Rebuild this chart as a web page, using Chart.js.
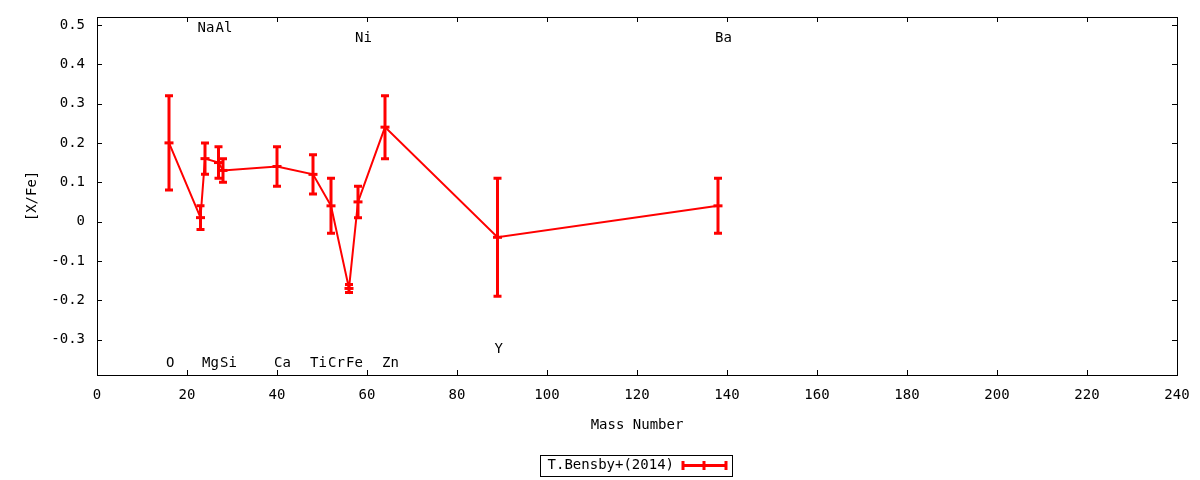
<!DOCTYPE html>
<html>
<head>
<meta charset="utf-8">
<script src="https://cdn.jsdelivr.net/npm/chart.js@4.4.0/dist/chart.umd.min.js"></script>
<style>
    html, body { margin: 0; padding: 0; background: #fff; }
</style>
</head>
<body>
<canvas id="abundanceChart" width="1200" height="480"></canvas>
<script>
// ── Data ───────────────────────────────────────────────────────────────────
const elements     = ['O', 'Na', 'Mg', 'Al', 'Si', 'Ca', 'Ti', 'Cr', 'Fe', 'Ni', 'Zn', 'Y', 'Ba'];
const massNumbers  = [16, 23, 24, 27, 28, 40, 48, 52, 56, 58, 64, 89, 138];
const xFe          = [0.20, 0.01, 0.16, 0.15, 0.13, 0.14, 0.12, 0.04, -0.17, 0.05, 0.24, -0.04, 0.04];
const xFeErr       = [0.12, 0.03, 0.04, 0.04, 0.03, 0.05, 0.05, 0.07, 0.01, 0.04, 0.08, 0.15, 0.07];
// where each element name sits, in [X/Fe] units
const labelY       = [-0.36, 0.49, -0.36, 0.49, -0.36, -0.36, -0.36, -0.36, -0.36, 0.465, -0.36, -0.325, 0.465];
const xTicks       = [0, 20, 40, 60, 80, 100, 120, 140, 160, 180, 200, 220, 240];
const yTicks       = [-0.3, -0.2, -0.1, 0, 0.1, 0.2, 0.3, 0.4, 0.5];
const seriesName   = 'T.Bensby+(2014)';

// ── Style helpers ──────────────────────────────────────────────────────────
const FONT_FAMILY = '"DejaVu Sans Mono", monospace';
const FONT_SIZE = 14;
const RED = '#ff0000';
const TICK_LEN = 5;

function capBar(ctx, x, y1, y2, half) {
    ctx.moveTo(x, y1); ctx.lineTo(x, y2);
    ctx.moveTo(x - half, y1); ctx.lineTo(x + half, y1);
    ctx.moveTo(x - half, y2); ctx.lineTo(x + half, y2);
}

// frame, inward ticks, error bars, element names and the key box
const gnuplotLook = {
    id: 'gnuplotLook',
    beforeDatasetsDraw(chart) {
        const { ctx, chartArea: a, scales: { x, y } } = chart;
        ctx.save();
        ctx.strokeStyle = '#000';
        ctx.lineWidth = 1;
        ctx.beginPath();
        xTicks.forEach(v => {
            const px = Math.round(x.getPixelForValue(v)) + 0.5;
            ctx.moveTo(px, a.bottom); ctx.lineTo(px, a.bottom - TICK_LEN);
            ctx.moveTo(px, a.top); ctx.lineTo(px, a.top + TICK_LEN);
        });
        yTicks.forEach(v => {
            const py = Math.round(y.getPixelForValue(v)) + 0.5;
            ctx.moveTo(a.left, py); ctx.lineTo(a.left + TICK_LEN, py);
            ctx.moveTo(a.right, py); ctx.lineTo(a.right - TICK_LEN, py);
        });
        ctx.stroke();
        ctx.strokeRect(Math.round(a.left) + 0.5, Math.round(a.top) + 0.5,
            Math.round(a.right - a.left), Math.round(a.bottom - a.top));
        ctx.restore();
    },
    afterDatasetsDraw(chart) {
        const { ctx, chartArea: a, scales: { x, y } } = chart;
        ctx.save();

        // error bars
        ctx.strokeStyle = RED;
        ctx.lineWidth = 3;
        ctx.beginPath();
        massNumbers.forEach((m, i) => {
            capBar(ctx, x.getPixelForValue(m),
                y.getPixelForValue(xFe[i] + xFeErr[i]),
                y.getPixelForValue(xFe[i] - xFeErr[i]), 4);
        });
        ctx.stroke();

        // element names
        ctx.fillStyle = '#000';
        ctx.font = `${FONT_SIZE}px ${FONT_FAMILY}`;
        ctx.textAlign = 'left';
        ctx.textBaseline = 'middle';
        elements.forEach((el, i) => {
            ctx.fillText(el, x.getPixelForValue(massNumbers[i]) - 3, y.getPixelForValue(labelY[i]));
        });

        // key below the plot
        const cx = (a.left + a.right) / 2;
        const ky = 465.5;
        ctx.strokeStyle = '#000';
        ctx.lineWidth = 1;
        ctx.strokeRect(Math.round(cx - 97) + 0.5, 455.5, 192, 21);
        ctx.textAlign = 'right';
        ctx.fillText(seriesName, cx + 37, ky);

        ctx.strokeStyle = RED;
        ctx.lineWidth = 3;
        ctx.beginPath();
        ctx.moveTo(cx + 46, ky); ctx.lineTo(cx + 89, ky);
        [46, 67, 89].forEach(dx => {
            ctx.moveTo(cx + dx, ky - 4.5); ctx.lineTo(cx + dx, ky + 4.5);
        });
        ctx.stroke();
        ctx.restore();
    }
};

const tickFont = { family: FONT_FAMILY, size: FONT_SIZE };

new Chart(document.getElementById('abundanceChart').getContext('2d'), {
    type: 'line',
    data: {
        datasets: [{
            label: seriesName,
            data: massNumbers.map((m, i) => ({ x: m, y: xFe[i] })),
            borderColor: RED,
            borderWidth: 2,
            tension: 0,
            fill: false,
            pointStyle: 'line',
            pointRadius: 4.5,
            pointBorderWidth: 3,
            pointBorderColor: RED,
            pointBackgroundColor: RED,
            clip: false
        }]
    },
    options: {
        responsive: false,
        devicePixelRatio: 1,
        animation: false,
        layout: { padding: { top: 17, right: 23, left: 0, bottom: 0 } },
        plugins: {
            legend: { display: false },
            tooltip: { enabled: false }
        },
        scales: {
            x: {
                type: 'linear',
                min: 0,
                max: 240,
                afterBuildTicks: s => { s.ticks = xTicks.map(v => ({ value: v })); },
                afterFit: s => { s.height = 105; s.paddingLeft = 0; s.paddingRight = 0; },
                grid: { display: false, drawTicks: false },
                border: { display: false },
                ticks: { font: tickFont, color: '#000', padding: 12, maxRotation: 0, autoSkip: false },
                title: {
                    display: true,
                    text: 'Mass Number',
                    font: tickFont,
                    color: '#000',
                    padding: { top: 0, bottom: 46 }
                }
            },
            y: {
                type: 'linear',
                min: -0.39,
                max: 0.52,
                afterBuildTicks: s => { s.ticks = yTicks.map(v => ({ value: v })); },
                afterFit: s => { s.width = 97; s.paddingTop = 0; s.paddingBottom = 0; },
                grid: { display: false, drawTicks: false },
                border: { display: false },
                ticks: {
                    font: tickFont,
                    color: '#000',
                    padding: 12,
                    autoSkip: false,
                    callback: v => (Math.abs(v) < 1e-9 ? '0' : v.toFixed(1))
                },
                title: {
                    display: true,
                    text: '[X/Fe]',
                    font: tickFont,
                    color: '#000',
                    padding: { top: 24, bottom: 0 }
                }
            }
        }
    },
    plugins: [gnuplotLook]
});
</script>
</body>
</html>
